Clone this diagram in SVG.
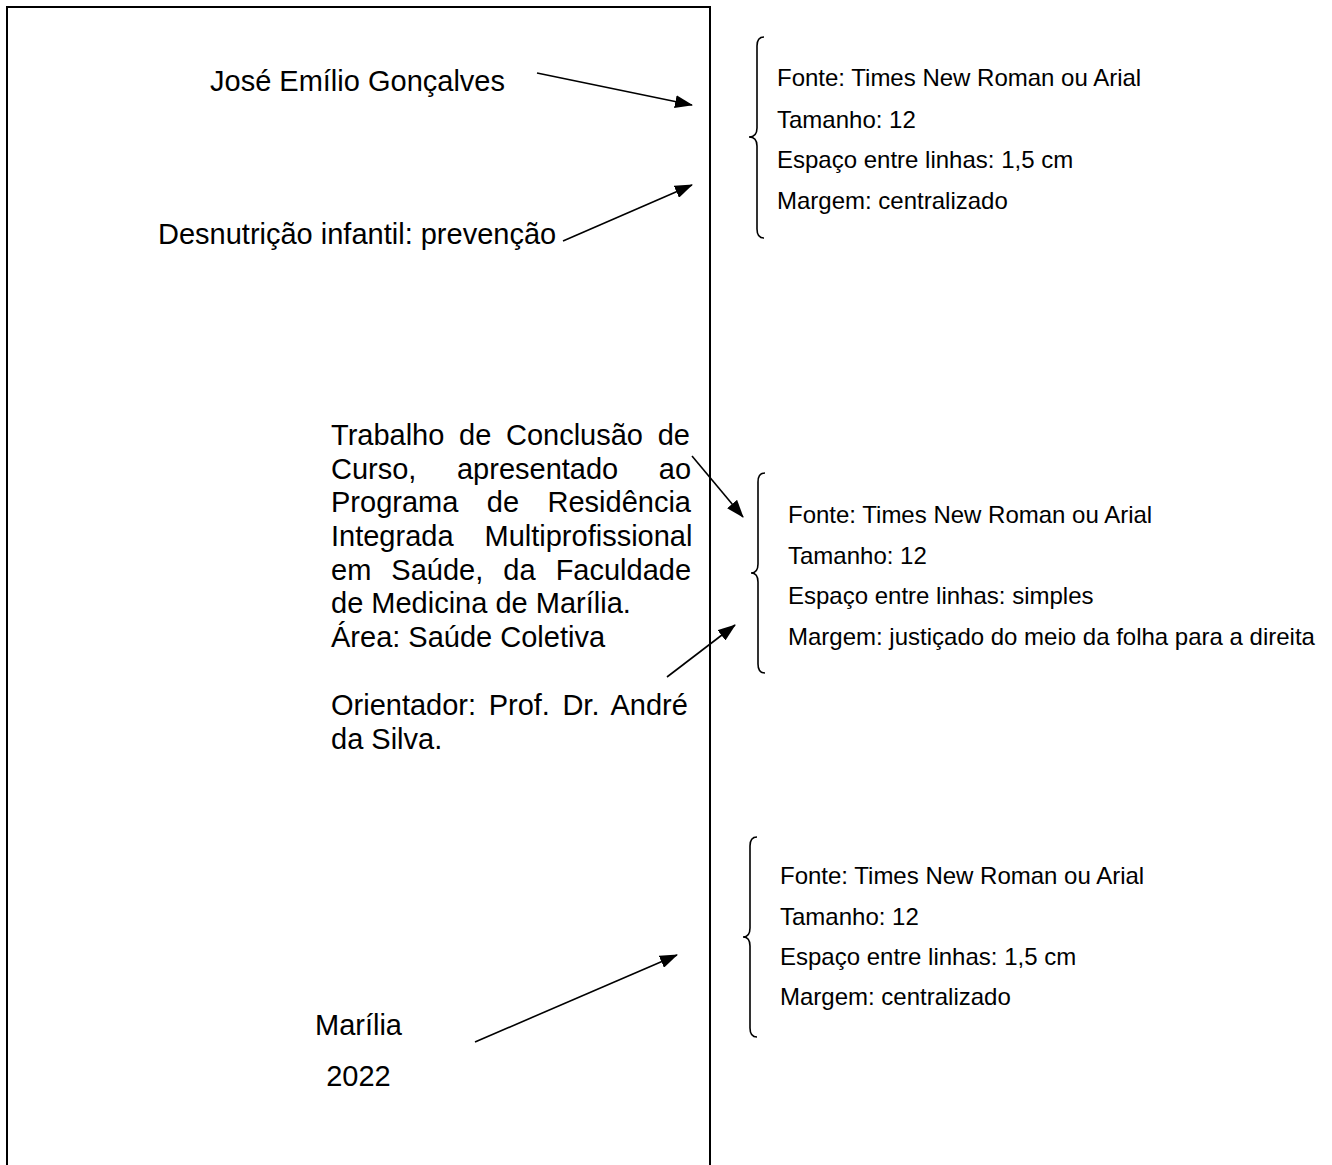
<svg xmlns="http://www.w3.org/2000/svg" width="1332" height="1165" viewBox="0 0 1332 1165">
<style>
  .big { font-family: "Liberation Sans", Arial, sans-serif; font-size: 29px; fill: #000; }
  .small { font-family: "Liberation Sans", Arial, sans-serif; font-size: 24px; fill: #000; }
  .arrow { stroke: #000; stroke-width: 1.6; fill: none; marker-end: url(#ah); }
  .brace { stroke: #000; stroke-width: 1.6; fill: none; }
</style>
<defs>
  <marker id="ah" viewBox="0 0 18 13" refX="17" refY="6.5" markerWidth="18" markerHeight="13" markerUnits="userSpaceOnUse" orient="auto">
    <path d="M0,0 L18,6.5 L0,13 Z" fill="#000"/>
  </marker>
</defs>
<rect width="1332" height="1165" fill="#fff"/>
<g id="page">
  <path d="M7,1166 V7 H710 V1166" fill="none" stroke="#000" stroke-width="2"/>
</g>
<g id="author"><text class="big" x="210" y="91">José Emílio Gonçalves</text></g>
<g id="title"><text class="big" x="158" y="244">Desnutrição infantil: prevenção</text></g>
<g id="nature">
  <text class="big" x="331" y="445" word-spacing="6.6">Trabalho de Conclusão de</text>
  <text class="big" x="331" y="478.7" word-spacing="32.5">Curso, apresentado ao</text>
  <text class="big" x="331" y="512.3" word-spacing="20.4">Programa de Residência</text>
  <text class="big" x="331" y="546" word-spacing="22.9">Integrada Multiprofissional</text>
  <text class="big" x="331" y="579.7" word-spacing="12">em Saúde, da Faculdade</text>
  <text class="big" x="331" y="613.3">de Medicina de Marília.</text>
  <text class="big" x="331" y="647">Área: Saúde Coletiva</text>
  <text class="big" x="331" y="715" word-spacing="4.5">Orientador: Prof. Dr. André</text>
  <text class="big" x="331" y="748.7">da Silva.</text>
</g>
<g id="place">
  <text class="big" x="358.5" y="1035" text-anchor="middle">Marília</text>
  <text class="big" x="358.5" y="1086" text-anchor="middle">2022</text>
</g>
<g id="note1">
  <path class="brace" d="M764,37 Q757,37 757,46 L757,128 Q757,137 749,137 Q757,137 757,146 L757,229 Q757,238 764,238"/>
  <text class="small" x="777" y="86">Fonte: Times New Roman ou Arial</text>
  <text class="small" x="777" y="127.5">Tamanho: 12</text>
  <text class="small" x="777" y="168">Espaço entre linhas: 1,5 cm</text>
  <text class="small" x="777" y="209">Margem: centralizado</text>
</g>
<g id="note2">
  <path class="brace" d="M765,473 Q758,473 758,482 L758,564 Q758,573 751,573 Q758,573 758,582 L758,664 Q758,673 765,673"/>
  <text class="small" x="788" y="523">Fonte: Times New Roman ou Arial</text>
  <text class="small" x="788" y="564">Tamanho: 12</text>
  <text class="small" x="788" y="604">Espaço entre linhas: simples</text>
  <text class="small" x="788" y="645">Margem: justiçado do meio da folha para a direita</text>
</g>
<g id="note3">
  <path class="brace" d="M757,837 Q750,837 750,846 L750,928 Q750,937 743,937 Q750,937 750,946 L750,1028 Q750,1037 757,1037"/>
  <text class="small" x="780" y="884">Fonte: Times New Roman ou Arial</text>
  <text class="small" x="780" y="925">Tamanho: 12</text>
  <text class="small" x="780" y="965">Espaço entre linhas: 1,5 cm</text>
  <text class="small" x="780" y="1005">Margem: centralizado</text>
</g>
<g id="connectors">
  <line class="arrow" x1="537" y1="73" x2="692" y2="105"/>
  <line class="arrow" x1="563" y1="241" x2="692" y2="185"/>
  <line class="arrow" x1="692" y1="456" x2="743" y2="517"/>
  <line class="arrow" x1="667" y1="677" x2="735" y2="625"/>
  <line class="arrow" x1="475" y1="1042" x2="677" y2="955"/>
</g>
</svg>
